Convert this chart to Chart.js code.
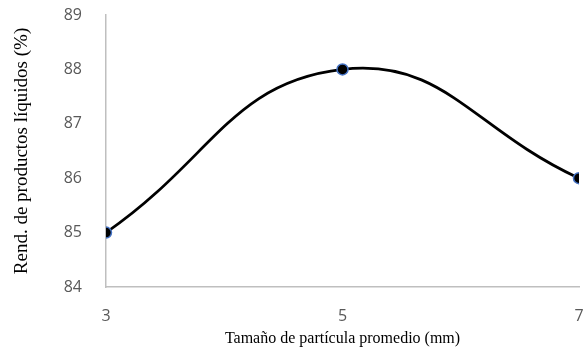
<!DOCTYPE html>
<html>
<head>
<meta charset="utf-8">
<script src="https://cdn.jsdelivr.net/npm/chart.js@4"></script>
<style>
  html, body { margin: 0; padding: 0; background: #fff; }
  #wrap { width: 586px; height: 350px; }
</style>
</head>
<body>
<div id="wrap"><canvas id="chart"></canvas></div>
<script>
// tamaño de partícula (mm) vs rendimiento de líquidos (%)
const PARTICLE_SIZE = [3, 5, 7];
const LIQUID_YIELD = [85, 88, 86];
const X_TICKS = [3, 5, 7];
const Y_TICKS = [84, 85, 86, 87, 88, 89];

const TICK_FONT = { family: "'Open Sans', 'Liberation Sans', sans-serif", size: 16 };
const SERIF = "'Liberation Serif', 'Times New Roman', serif";

const ctx = document.getElementById('chart').getContext('2d');
new Chart(ctx, {
  type: 'line',
  data: {
    datasets: [{
      data: PARTICLE_SIZE.map((x, i) => ({ x, y: LIQUID_YIELD[i] })),
      borderColor: '#000000',
      borderWidth: 2.8,
      tension: 0.45,
      fill: false,
      pointRadius: 5.5,
      pointBackgroundColor: '#000000',
      pointBorderColor: '#4472c4',
      pointBorderWidth: 1.5,
    }],
  },
  options: {
    responsive: true,
    maintainAspectRatio: false,
    animation: false,
    layout: { padding: { top: 15, right: 6, left: 6, bottom: 0 } },
    plugins: { legend: { display: false }, tooltip: { enabled: false } },
    scales: {
      x: {
        type: 'linear',
        min: 3,
        max: 7,
        afterBuildTicks: s => { s.ticks = X_TICKS.map(v => ({ value: v })); },
        afterFit: s => { s.height = 63; s.paddingLeft = 0; s.paddingRight = 0; },
        ticks: { color: '#595959', font: TICK_FONT, padding: 12, maxRotation: 0 },
        grid: { display: false },
        border: { display: true, color: '#bfbfbf', width: 1.5 },
        title: {
          display: true,
          text: 'Tamaño de partícula promedio (mm)',
          color: '#000000',
          font: { family: SERIF, size: 16 },
          padding: { top: 0, bottom: 2 },
        },
      },
      y: {
        min: 84,
        max: 89,
        afterBuildTicks: s => { s.ticks = Y_TICKS.map(v => ({ value: v })); },
        afterFit: s => { s.width = 100; s.paddingTop = 0; s.paddingBottom = 0; },
        ticks: { color: '#595959', font: TICK_FONT, padding: 16 },
        grid: { display: false },
        border: { display: true, color: '#bfbfbf', width: 1.5 },
        title: {
          display: true,
          text: 'Rend. de productos líquidos (%)',
          color: '#000000',
          font: { family: SERIF, size: 19 },
          padding: { top: 5, bottom: 0 },
        },
      },
    },
  },
});
</script>
</body>
</html>
